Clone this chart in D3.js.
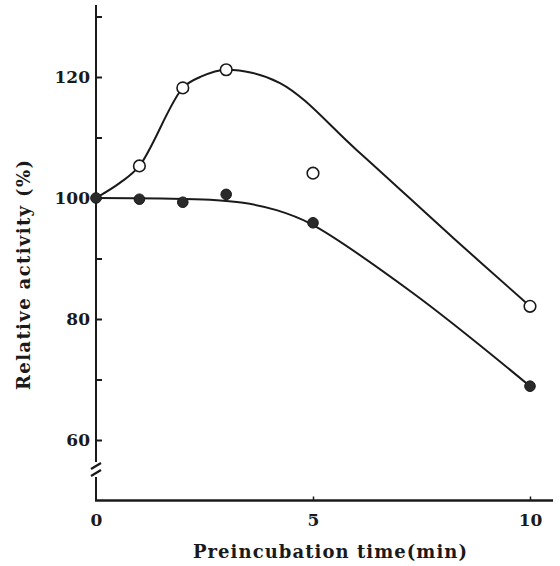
<!DOCTYPE html>
<html>
<head>
<meta charset="utf-8">
<script src="https://cdn.jsdelivr.net/npm/d3@7/dist/d3.min.js"></script>
<style>
  html, body { margin: 0; padding: 0; background: #fff; }
  svg { display: block; }
  text { font-family: "DejaVu Serif", "Liberation Serif", serif; fill: #1a1a1a; }
</style>
</head>
<body>
<svg id="chart" width="560" height="566"></svg>
<script>
// ---- data ----
const times = [0, 1, 2, 3, 5, 10];
const openValues = [100, 105.3, 118.2, 121.2, 104.1, 82.1];
const filledValues = [100, 99.8, 99.3, 100.6, 95.9, 68.9];
// hand-drawn fitted curves
const openCurveT = [0, 0.55, 1, 2, 2.4, 3, 4.24, 6.01, 8.2, 10];
const openCurveV = [100, 102.5, 105.3, 118.2, 120.0, 121.2, 119.0, 107.9, 93.6, 82.1];
const filledCurveT = [0, 1.5, 2.63, 3.39, 4.16, 4.93, 7.3, 10];
const filledCurveV = [100, 99.9, 99.7, 99.2, 98.0, 95.8, 84.3, 68.9];
const xTicks = [0, 5, 10];
const yTicks = [60, 70, 80, 90, 100, 110, 120, 130];
const yLabels = [60, 80, 100, 120];
const xTitle = "Preincubation time(min)";
const yTitle = "Relative activity (%)";

const ink = "#1a1a1a";
const svg = d3.select("#chart");

const x = d3.scaleLinear().domain([0, 10]).range([96, 530]);
const y = d3.scaleLinear().domain([50, 130]).range([500.5, 16.5]);

// y axis (ticks pointing inward, labels outside)
const yAxis = d3.axisLeft(y)
  .tickValues(yTicks)
  .tickSizeInner(-6).tickSizeOuter(0).tickPadding(6)
  .tickFormat(d => yLabels.includes(d) ? d : "");
const gy = svg.append("g").attr("transform", `translate(${x(0)},0)`).call(yAxis);
gy.select(".domain").remove();
gy.selectAll(".tick line").attr("stroke", ink).attr("stroke-width", 2);
gy.selectAll(".tick text")
  .style("font-family", '"DejaVu Serif", serif')
  .style("font-weight", "bold").style("font-size", "17px").attr("fill", ink);

// y axis line with break
const breakTop = 462, breakBot = 477;
svg.append("line").attr("x1", x(0)).attr("x2", x(0))
  .attr("y1", 5).attr("y2", breakTop).attr("stroke", ink).attr("stroke-width", 2);
svg.append("line").attr("x1", x(0)).attr("x2", x(0))
  .attr("y1", breakBot).attr("y2", y(50)).attr("stroke", ink).attr("stroke-width", 2);
[466, 473].forEach(cy => {
  svg.append("line").attr("x1", x(0) - 5).attr("y1", cy + 3)
    .attr("x2", x(0) + 5).attr("y2", cy - 3)
    .attr("stroke", ink).attr("stroke-width", 2.2);
});

// x axis
const xAxis = d3.axisBottom(x)
  .tickValues(xTicks)
  .tickSizeInner(-4).tickSizeOuter(0).tickPadding(13)
  .tickFormat(d => d);
const gx = svg.append("g").attr("transform", `translate(0,${y(50)})`).call(xAxis);
gx.select(".domain").remove();
gx.selectAll(".tick line").attr("stroke", ink).attr("stroke-width", 1.5)
  .filter(d => d === 0).remove();
gx.selectAll(".tick text")
  .style("font-family", '"DejaVu Serif", serif')
  .style("font-weight", "bold").style("font-size", "17px").attr("fill", ink);
svg.append("line").attr("x1", x(0) - 1).attr("x2", x(10.53))
  .attr("y1", y(50)).attr("y2", y(50)).attr("stroke", ink).attr("stroke-width", 2.6);

// titles
svg.append("text")
  .attr("x", 330).attr("y", 558)
  .attr("text-anchor", "middle")
  .attr("textLength", 274).attr("lengthAdjust", "spacing")
  .style("font-weight", "bold").style("font-size", "18px")
  .text(xTitle);
svg.append("text")
  .attr("transform", "translate(30,275) rotate(-90)")
  .attr("text-anchor", "middle")
  .attr("textLength", 230).attr("lengthAdjust", "spacing")
  .style("font-weight", "bold").style("font-size", "18px")
  .text(yTitle);

// curves
const line = d3.line().x(d => x(d[0])).y(d => y(d[1])).curve(d3.curveCatmullRom.alpha(0.5));
svg.append("path").datum(d3.zip(openCurveT, openCurveV))
  .attr("d", line).attr("fill", "none").attr("stroke", ink).attr("stroke-width", 2);
svg.append("path").datum(d3.zip(filledCurveT, filledCurveV))
  .attr("d", line).attr("fill", "none").attr("stroke", ink).attr("stroke-width", 2);

// markers
svg.selectAll("circle.open").data(d3.zip(times, openValues).slice(1)).join("circle")
  .attr("class", "open")
  .attr("cx", d => x(d[0])).attr("cy", d => y(d[1])).attr("r", 5.8)
  .attr("fill", "#fff").attr("stroke", ink).attr("stroke-width", 1.6);
svg.selectAll("circle.filled").data(d3.zip(times, filledValues)).join("circle")
  .attr("class", "filled")
  .attr("cx", d => x(d[0])).attr("cy", d => y(d[1])).attr("r", 5.3)
  .attr("fill", "#2a2a2a").attr("stroke", ink).attr("stroke-width", 1);
</script>
</body>
</html>
